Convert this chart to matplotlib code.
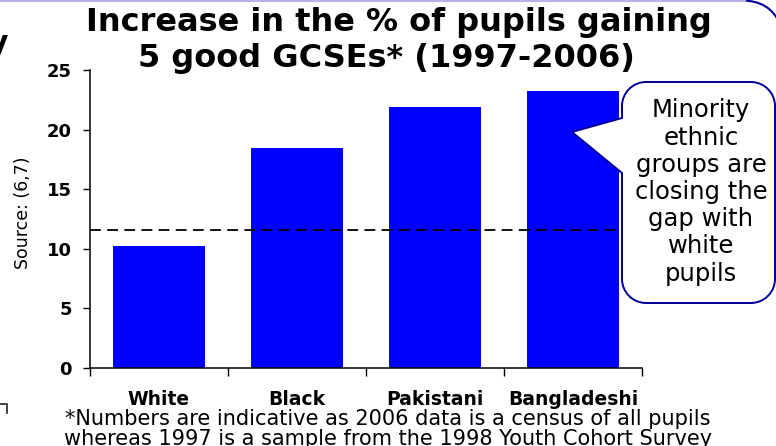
import matplotlib
matplotlib.use("Agg")
import matplotlib.pyplot as plt
from matplotlib.path import Path
from matplotlib.patches import PathPatch

# data
groups = ["White", "Black", "Pakistani", "Bangladeshi"]
increase = [10.2, 18.45, 21.9, 23.2]
white_gap_level = 11.6
y_ticks = [0, 5, 10, 15, 20, 25]

title_1 = "Increase in the % of pupils gaining"
title_2 = "5 good GCSEs* (1997-2006)"
source = "Source: (6,7)"
note_1 = "*Numbers are indicative as 2006 data is a census of all pupils"
note_2 = "whereas 1997 is a sample from the 1998 Youth Cohort Survey"
callout = "Minority\nethnic\ngroups are\nclosing the\ngap with\nwhite\npupils"

W, H = 776, 446
fig = plt.figure(figsize=(W / 100, H / 100), dpi=100)
fig.patch.set_facecolor("white")

# main chart, placed in pixel terms
ax = fig.add_axes([90 / W, (H - 368) / H, (642 - 90) / W, (368 - 70) / H])
x = list(range(len(groups)))
ax.bar(x, increase, width=0.67, color="#0000ff", zorder=2)
ax.plot([-0.5, len(groups) - 0.5], [white_gap_level] * 2, color="black",
        lw=1.3, dashes=(6, 3.5), zorder=3)

ax.set_xlim(-0.5, len(groups) - 0.5)
ax.set_ylim(0, 25)
ax.set_yticks(y_ticks)
ax.set_yticklabels([str(t) for t in y_ticks], fontsize=13, fontweight="bold")
ax.tick_params(axis="y", direction="out", length=5, width=1, pad=8)
ax.set_xticks(x)
ax.set_xticklabels(groups, fontsize=13.5, fontweight="bold")
ax.tick_params(axis="x", which="major", length=0, pad=16)
ax.set_xticks([i - 0.5 for i in range(len(groups) + 1)], minor=True)
ax.tick_params(axis="x", which="minor", direction="out", length=6, width=1)
for s in ("top", "right"):
    ax.spines[s].set_visible(False)
for s in ("left", "bottom"):
    ax.spines[s].set_linewidth(1.1)

# overlay in pixel coordinates for text and shapes
ov = fig.add_axes([0, 0, 1, 1], zorder=5)
ov.set_xlim(0, W)
ov.set_ylim(H, 0)
ov.axis("off")
ov.patch.set_alpha(0)

ov.text(399, 23, title_1, ha="center", va="center", fontsize=23,
        fontweight="bold")
ov.text(386, 58, title_2, ha="center", va="center", fontsize=23,
        fontweight="bold")
ov.text(23, 213, source, ha="center", va="center", rotation=90, fontsize=12.5)
ov.text(388, 419, note_1, ha="center", va="center", fontsize=15)
ov.text(388, 439, note_2, ha="center", va="center", fontsize=15)

# speech bubble
l, r, t, b, rad = 622, 775, 82, 303, 24
k = 0.55 * rad
verts = [
    (l, 118), (l, t + rad),
    (l, t + rad - k), (l + rad - k, t), (l + rad, t),
    (r - rad, t),
    (r - rad + k, t), (r, t + rad - k), (r, t + rad),
    (r, b - rad),
    (r, b - rad + k), (r - rad + k, b), (r - rad, b),
    (l + rad, b),
    (l + rad - k, b), (l, b - rad + k), (l, b - rad),
    (l, 173), (572, 132), (l, 118),
]
codes = [Path.MOVETO, Path.LINETO,
         Path.CURVE4, Path.CURVE4, Path.CURVE4,
         Path.LINETO,
         Path.CURVE4, Path.CURVE4, Path.CURVE4,
         Path.LINETO,
         Path.CURVE4, Path.CURVE4, Path.CURVE4,
         Path.LINETO,
         Path.CURVE4, Path.CURVE4, Path.CURVE4,
         Path.LINETO, Path.LINETO, Path.CLOSEPOLY]
ov.add_patch(PathPatch(Path(verts, codes), facecolor="white",
                       edgecolor="#000099", lw=1.4))
ov.text(701, 192, callout, ha="center", va="center", fontsize=17.5,
        linespacing=1.17)

# bits of the surrounding slide
ov.plot([0, 745], [0.8, 0.8], color="#b4b4e6", lw=1.5)
ov.add_patch(PathPatch(Path([(742, 0.5), (770, 0.5), (780, 24)],
                            [Path.MOVETO, Path.CURVE3, Path.CURVE3]),
                       facecolor="none", edgecolor="#000099", lw=1.5))
ov.plot([0, 7, 7], [403.5, 403.5, 413], color="#333333", lw=1.3)
ov.text(8, 44, "y", ha="right", va="center", fontsize=21.5, fontweight="bold",
        clip_on=False)

fig.savefig("out.png", dpi=100)
